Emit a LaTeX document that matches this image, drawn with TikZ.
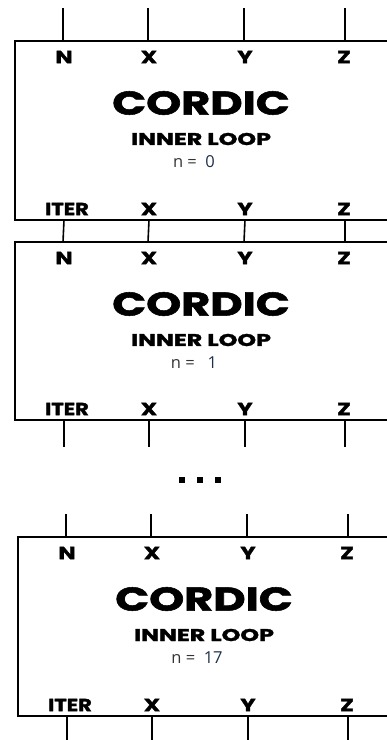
\documentclass[tikz,border=0pt]{standalone}
\usepackage{fontspec}
\setmainfont{Poppins}
\newfontfamily\heavy{Poppins}[FakeBold=1.6]
\newfontfamily\numfont{Open Sans}
\definecolor{numc}{HTML}{1E2F4A}
\tikzset{
  boxline/.style={line width=1.6pt, line join=miter},
  stub/.style={line width=1.6pt},
  lab/.style={font=\heavy\fontsize{17.5}{17.5}\selectfont\bfseries, inner sep=0pt, anchor=center},
  title/.style={font=\heavy\fontsize{33}{33}\selectfont\bfseries, inner sep=0pt},
  sub/.style={font=\heavy\fontsize{17}{17}\selectfont\bfseries, inner sep=0pt},
  nval/.style={font=\numfont\fontsize{16.5}{16.5}\selectfont, inner sep=0pt, text=black!80},
  dot/.style={fill=black, minimum size=6.5pt, inner sep=0pt, draw=none}
}
\newcommand\wide[2]{\scalebox{#1}[1]{#2}}
\newcommand\cbox[5]{%
\begin{scope}[xshift=#2pt]
\draw[boxline] (392,#3) -- (15,#3) -- (15,#4) -- (392,#4);
\coordinate (#1-tN) at (63,#3);
\coordinate (#1-tX) at (148,#3);
\coordinate (#1-tY) at (244,#3);
\coordinate (#1-tZ) at (345,#3);
\coordinate (#1-bN) at (64,#4);
\coordinate (#1-bX) at (149,#4);
\coordinate (#1-bY) at (245,#4);
\coordinate (#1-bZ) at (345,#4);
\node[lab] (#1-N) at (64,#3+16) {\wide{1.3}{N}};
\node[lab] (#1-X) at (149,#3+16) {\wide{1.3}{X}};
\node[lab] (#1-Y) at (245,#3+16) {\wide{1.3}{Y}};
\node[lab] (#1-Z) at (344,#3+16) {\wide{1.3}{Z}};
\node[title] (#1-c) at (201,#3+62) {\wide{1.35}{CORDIC}};
\node[sub] (#1-i) at (201,#3+98) {\wide{1.4}{INNER LOOP}};
\node[nval] (#1-n) at (194,#3+121) {n =\ \ \textcolor{numc}{#5}};
\node[lab] (#1-It) at (67,#4-11) {\wide{1.2}{ITER}};
\node[lab] (#1-bXl) at (149,#4-11) {\wide{1.3}{X}};
\node[lab] (#1-bYl) at (245,#4-11) {\wide{1.3}{Y}};
\node[lab] (#1-bZl) at (344,#4-11) {\wide{1.3}{Z}};
\end{scope}}
\begin{document}
\begin{tikzpicture}[x=1pt,y=-1pt]
\useasboundingbox (0,0) rectangle (387,740);
\cbox{a}{0}{41}{220}{0}
\cbox{b}{0}{242}{420}{\ 1}
\cbox{c}{3}{537}{716}{17}
% free ends
\coordinate (inN) at (63,8);
\coordinate (inX) at (148,8);
\coordinate (inY) at (244,8);
\coordinate (inZ) at (345,8);
\foreach \p in {N,X,Y,Z} \draw[stub] (in\p) -- (a-t\p);
\foreach \p in {N,X,Y,Z} \draw[stub] (a-b\p) -- (b-t\p);
\coordinate (oN) at (64,447);
\coordinate (oX) at (149,447);
\coordinate (oY) at (245,447);
\coordinate (oZ) at (345,447);
\foreach \p in {N,X,Y,Z} \draw[stub] (b-b\p) -- (o\p);
\coordinate (iN) at (66,514);
\coordinate (iX) at (151,514);
\coordinate (iY) at (247,514);
\coordinate (iZ) at (348,514);
\foreach \p in {N,X,Y,Z} \draw[stub] (i\p) -- (c-t\p);
\coordinate (eN) at (67,741);
\coordinate (eX) at (152,741);
\coordinate (eY) at (248,741);
\coordinate (eZ) at (348,741);
\foreach \p in {N,X,Y,Z} \draw[stub] (c-b\p) -- (e\p);
\node[dot] (d1) at (182,480) {};
\node[dot] (d2) at (200,480) {};
\node[dot] (d3) at (218,480) {};
\end{tikzpicture}
\end{document}
